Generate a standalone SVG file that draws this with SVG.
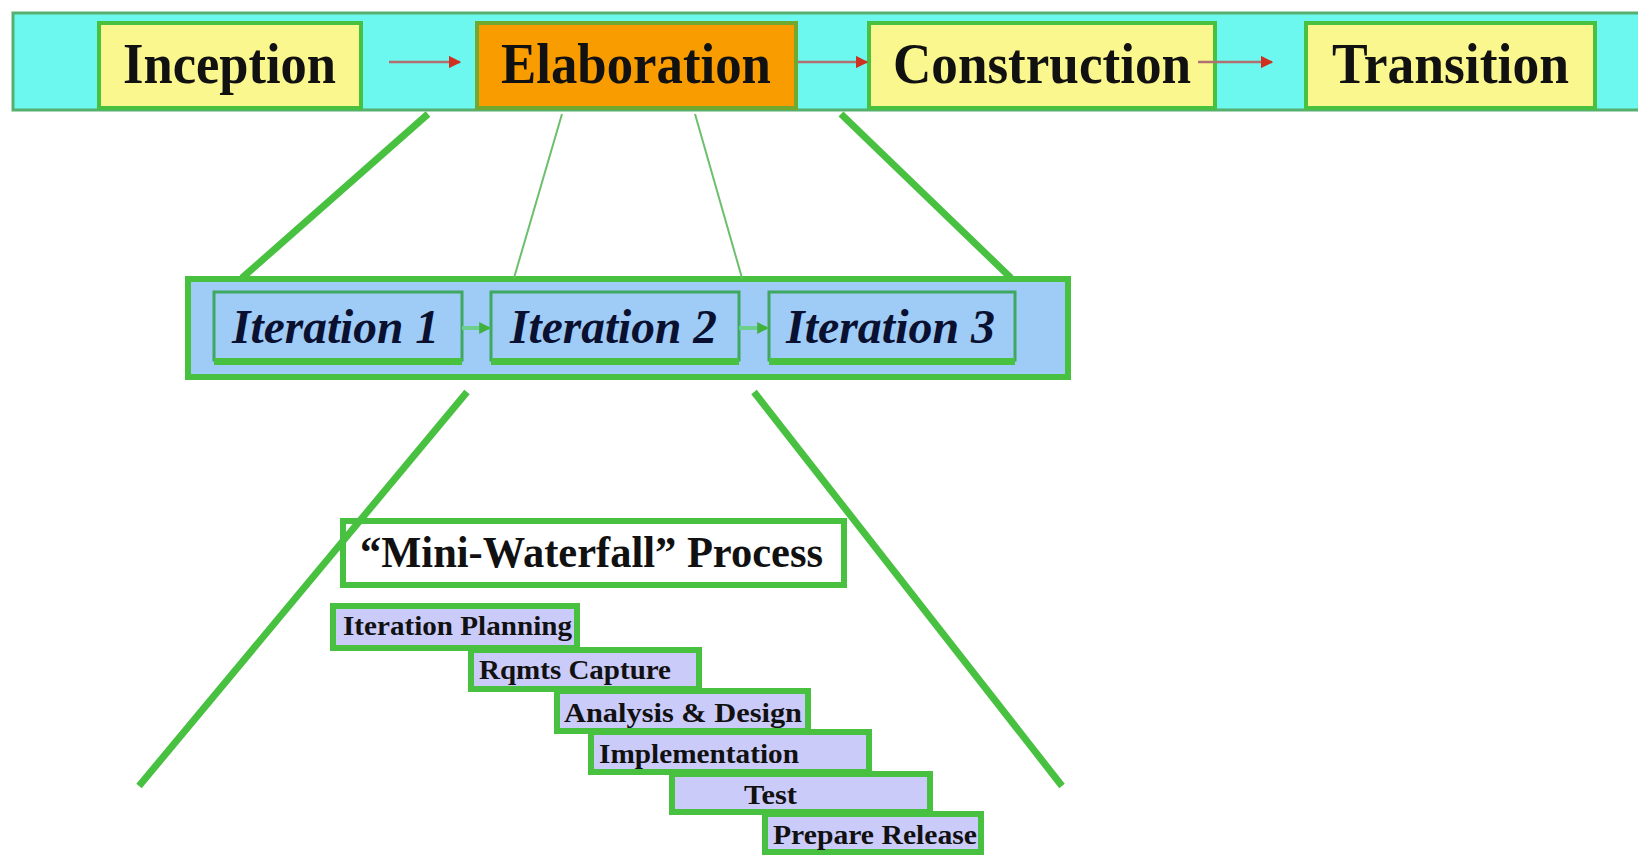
<svg xmlns="http://www.w3.org/2000/svg" width="1638" height="858" viewBox="0 0 1638 858">
<defs>
<style>
.phase{fill:#FBF78F;stroke:#48C040;stroke-width:4}
.phase-t{font-family:"Liberation Serif",serif;font-weight:bold;font-size:58px;fill:#111}
.iter{fill:#9FCBF7;stroke:#3FA860;stroke-width:3}
.iter-t{font-family:"Liberation Serif",serif;font-weight:bold;font-style:italic;font-size:48px;fill:#0A1030}
.step{fill:#CBCBFA;stroke:#48C040;stroke-width:6}
.step-t{font-family:"Liberation Serif",serif;font-weight:bold;font-size:28px;fill:#111}
.thick{stroke:#48C040;stroke-width:7;fill:none}
.thin{stroke:#6CBF6C;stroke-width:2;fill:none}
.redarrow{stroke:#B07070;stroke-width:2.5;fill:none}
.greenarrow{stroke:#6CCF8C;stroke-width:4;fill:none}
</style>
<marker id="rh" viewBox="0 0 10 10" refX="9" refY="5" markerWidth="5" markerHeight="5" orient="auto"><path d="M0,0 L10,5 L0,10 z" fill="#D03020"/></marker>
<marker id="gh" viewBox="0 0 10 10" refX="9" refY="5" markerWidth="3" markerHeight="3" orient="auto"><path d="M0,0 L10,5 L0,10 z" fill="#40B040"/></marker>
</defs>
<rect width="1638" height="858" fill="#FFFFFF"/>

<g id="phase-band">
<rect x="13" y="13" width="1640" height="97" fill="#6CF8EE" stroke="#55B070" stroke-width="3"/>
</g>
<g id="inception">
<rect class="phase" x="99" y="23" width="262" height="85"/>
<text class="phase-t" x="123" y="83" textLength="213" lengthAdjust="spacingAndGlyphs">Inception</text>
</g>
<g id="elaboration">
<rect x="477" y="23" width="319" height="85" fill="#F99C00" stroke="#70A830" stroke-width="4"/>
<text class="phase-t" x="501" y="83" textLength="270" lengthAdjust="spacingAndGlyphs" fill="#2A1000">Elaboration</text>
</g>
<g id="construction">
<rect class="phase" x="869" y="23" width="346" height="85"/>
<text class="phase-t" x="893" y="83" textLength="298" lengthAdjust="spacingAndGlyphs">Construction</text>
</g>
<g id="transition">
<rect class="phase" x="1306" y="23" width="289" height="85"/>
<text class="phase-t" x="1332" y="83" textLength="237" lengthAdjust="spacingAndGlyphs">Transition</text>
</g>

<g id="iteration-band">
<rect x="188" y="279" width="880" height="98" fill="#9FCBF7" stroke="#48C040" stroke-width="6"/>
</g>
<g id="iteration1">
<rect class="iter" x="214" y="292" width="248" height="68"/>
<rect x="214" y="358" width="248" height="7" fill="#48C040"/>
<text class="iter-t" x="232" y="343" textLength="207" lengthAdjust="spacingAndGlyphs">Iteration 1</text>
</g>
<g id="iteration2">
<rect class="iter" x="491" y="292" width="248" height="68"/>
<rect x="491" y="358" width="248" height="7" fill="#48C040"/>
<text class="iter-t" x="510" y="343" textLength="207" lengthAdjust="spacingAndGlyphs">Iteration 2</text>
</g>
<g id="iteration3">
<rect class="iter" x="769" y="292" width="246" height="68"/>
<rect x="769" y="358" width="246" height="7" fill="#48C040"/>
<text class="iter-t" x="786" y="343" textLength="209" lengthAdjust="spacingAndGlyphs">Iteration 3</text>
</g>

<g id="mini-waterfall">
<rect x="343" y="521" width="501" height="64" fill="#FFFFFF" stroke="#48C040" stroke-width="6"/>
<text x="360" y="567" textLength="463" lengthAdjust="spacingAndGlyphs" style="font-family:'Liberation Serif',serif;font-weight:bold;font-size:44px;fill:#111">“Mini-Waterfall” Process</text>
</g>

<g id="step-planning">
<rect class="step" x="333" y="606" width="244" height="42"/>
<text class="step-t" x="343" y="635" textLength="229" lengthAdjust="spacingAndGlyphs">Iteration Planning</text>
</g>
<g id="step-rqmts">
<rect class="step" x="471" y="650" width="228" height="39"/>
<text class="step-t" x="479" y="679" textLength="192" lengthAdjust="spacingAndGlyphs">Rqmts Capture</text>
</g>
<g id="step-analysis">
<rect class="step" x="557" y="691" width="251" height="40"/>
<text class="step-t" x="564" y="722" textLength="238" lengthAdjust="spacingAndGlyphs">Analysis &amp; Design</text>
</g>
<g id="step-impl">
<rect class="step" x="591" y="732" width="278" height="40"/>
<text class="step-t" x="599" y="763" textLength="200" lengthAdjust="spacingAndGlyphs">Implementation</text>
</g>
<g id="step-test">
<rect class="step" x="672" y="774" width="258" height="38"/>
<text class="step-t" x="744" y="804" textLength="53" lengthAdjust="spacingAndGlyphs">Test</text>
</g>
<g id="step-release">
<rect class="step" x="765" y="814" width="216" height="38"/>
<text class="step-t" x="773" y="844" textLength="204" lengthAdjust="spacingAndGlyphs">Prepare Release</text>
</g>

<g id="connectors">
<line class="redarrow" x1="389" y1="62" x2="460" y2="62" marker-end="url(#rh)"/>
<line class="redarrow" x1="798" y1="62" x2="867" y2="62" marker-end="url(#rh)"/>
<line class="redarrow" x1="1198" y1="62" x2="1272" y2="62" marker-end="url(#rh)"/>
<line class="thick" x1="428" y1="114" x2="242" y2="278"/>
<line class="thin" x1="562" y1="114" x2="514" y2="278"/>
<line class="thin" x1="695" y1="114" x2="742" y2="278"/>
<line class="thick" x1="841" y1="114" x2="1011" y2="278"/>
<line class="greenarrow" x1="462" y1="328" x2="490" y2="328" marker-end="url(#gh)"/>
<line class="greenarrow" x1="739" y1="328" x2="768" y2="328" marker-end="url(#gh)"/>
<line class="thick" x1="467" y1="392" x2="139" y2="786"/>
<line class="thick" x1="754" y1="392" x2="1062" y2="786"/>
</g>
</svg>
